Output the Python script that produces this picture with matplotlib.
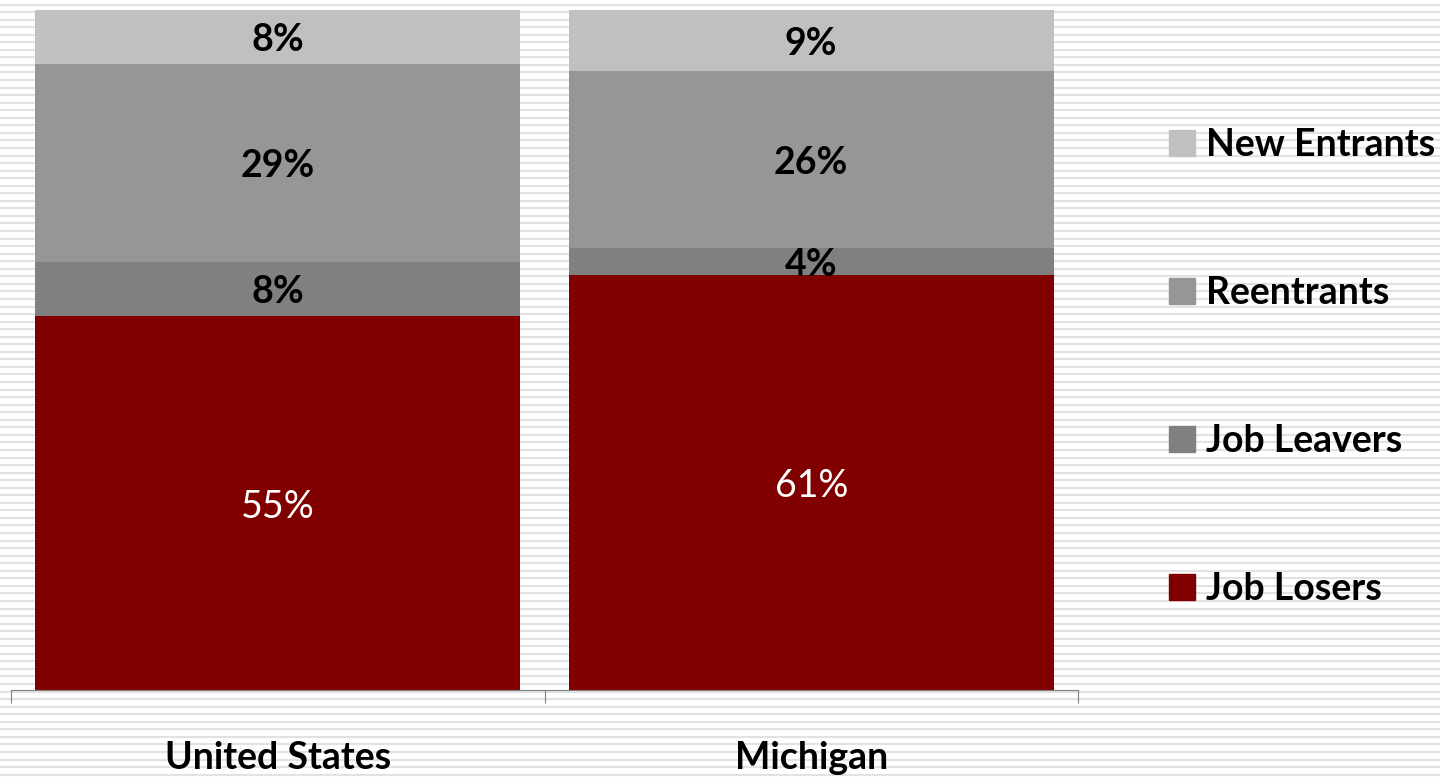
import numpy as np
import matplotlib.pyplot as plt
from matplotlib.patches import Patch

# Данные
regions = ['United States', 'Michigan']
series_names = ['Job Losers', 'Job Leavers', 'Reentrants', 'New Entrants']
job_losers = [55, 61]
job_leavers = [8, 4]
reentrants = [29, 26]
new_entrants = [8, 9]
series_colors = ['#800000', '#808080', '#969696', '#C0C0C0']

plt.rcParams['font.family'] = ['Lato', 'DejaVu Sans']

fig = plt.figure(figsize=(14.4, 7.77), dpi=100)

# Полосатый фон
bg = fig.add_axes([0, 0, 1, 1], zorder=-10)
bg.set_xlim(0, 1440)
bg.set_ylim(777, 0)
for y in np.arange(4.5, 777, 7.55):
    bg.axhline(y, color='#e2e2e2', lw=1.5)
bg.axis('off')

ax = fig.add_axes([11 / 1440, 1 - 690 / 777, (1078 - 11) / 1440, 680 / 777])
ax.patch.set_alpha(0)

x = np.arange(len(regions))
values = [job_losers, job_leavers, reentrants, new_entrants]
bottom = np.zeros(len(regions))
for name, vals, col in zip(series_names, values, series_colors):
    ax.bar(x, vals, width=0.909, bottom=bottom, color=col, label=name, zorder=2)
    for xi, b, v in zip(x, bottom, vals):
        if name == 'Job Losers':
            ax.text(xi, b + v / 2, f'{v}%', ha='center', va='center_baseline',
                    color='white', fontsize=27, zorder=3)
        else:
            ax.text(xi, b + v / 2, f'{v}%', ha='center', va='center_baseline',
                    color='black', fontsize=27, fontweight='bold', zorder=3)
    bottom += np.array(vals)

ax.set_xlim(-0.5, 1.5)
ax.set_ylim(0, 100)
for s in ['top', 'right', 'left']:
    ax.spines[s].set_visible(False)
ax.spines['bottom'].set_color('#808080')
ax.set_yticks([])
ax.set_xticks([-0.5, 0.5, 1.5])
ax.set_xticklabels([])
ax.tick_params(axis='x', which='major', direction='out', length=9.4,
               color='#808080')
ax.set_xticks(x, minor=True)
ax.set_xticklabels(regions, minor=True, fontsize=27, fontweight='bold')
ax.tick_params(axis='x', which='minor', length=0, pad=37)

handles = [Patch(color=c) for c in series_colors][::-1]
fig.legend(handles, series_names[::-1], loc='center left',
           bbox_to_anchor=(1135 / 1440, 1 - 367 / 777), frameon=False,
           prop={'size': 27, 'weight': 'bold'},
           handlelength=0.69, handleheight=0.69, handletextpad=0.3,
           labelspacing=3.04)

fig.savefig('out.png', dpi=100)
